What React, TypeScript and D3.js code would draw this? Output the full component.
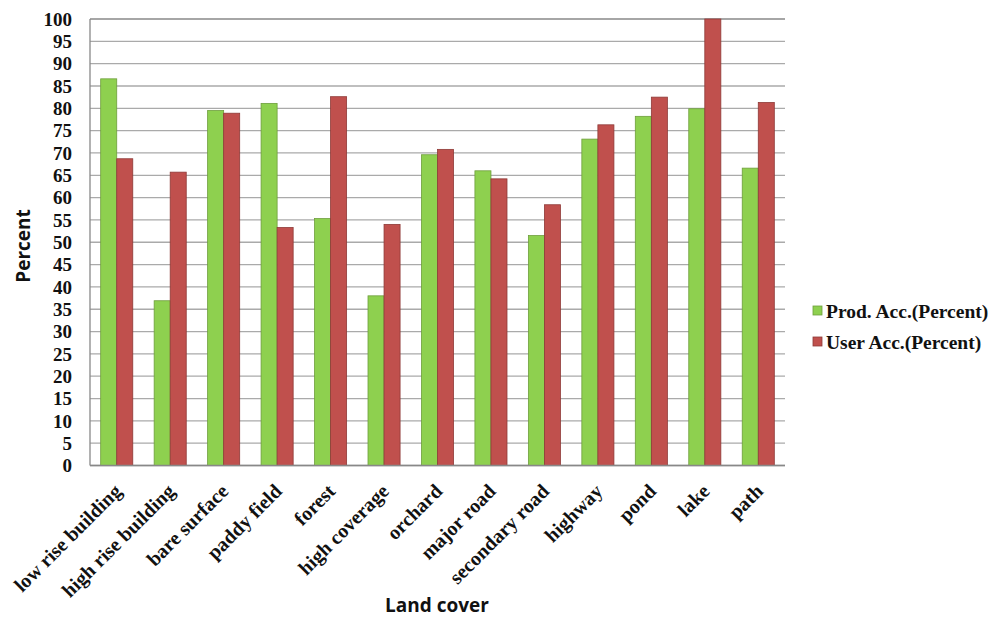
import React from "react";
import * as d3 from "d3";

const categories = ["low rise building", "high rise building", "bare surface", "paddy field", "forest", "high coverage", "orchard", "major road", "secondary road", "highway", "pond", "lake", "path"];
const prodAcc = [86.6, 36.9, 79.5, 81.1, 55.3, 38.0, 69.6, 66.0, 51.5, 73.1, 78.2, 79.9, 66.6];
const userAcc = [68.7, 65.7, 78.9, 53.3, 82.6, 54.0, 70.8, 64.2, 58.4, 76.3, 82.5, 100, 81.3];
const seriesNames = ["Prod. Acc.(Percent)", "User Acc.(Percent)"];
const yTicks = d3.range(0, 101, 5);

const W = 992, H = 617;
const left = 90, right = 785, top = 19, bottom = 465.5;
const colors = ["#8ED04F", "#C0504D"];
const strokes = ["#6E9E3C", "#8E3A37"];
const serif = "'Liberation Serif', 'Times New Roman', serif";
const sans = "'Open Sans', 'Liberation Sans', Arial, sans-serif";

export default function App() {
  const x = d3.scaleBand<string>().domain(categories).range([left, right]).paddingInner(0.4).paddingOuter(0.2);
  const x1 = d3.scaleBand<number>().domain([0, 1]).range([0, x.bandwidth()]);
  const y = d3.scaleLinear().domain([0, 100]).range([bottom, top]);
  const series = [prodAcc, userAcc];
  return (
    <svg width={W} height={H} style={{ position: "absolute", left: 0, top: 0, background: "#fff" }}>
      {yTicks.map((t) => (
        <g key={t}>
          <line x1={left} x2={right} y1={y(t)} y2={y(t)} stroke={t === 100 ? "#888" : "#AAAAAA"} strokeWidth={1.3} />
          <text x={left - 18} y={y(t)} dy="0.35em" textAnchor="end" fontFamily={serif} fontWeight="bold" fontSize={19} fill="#111">{t}</text>
        </g>
      ))}
      {categories.map((c, i) => (
        <g key={c}>
          {series.map((s, k) => (
            <rect key={k} x={(x(c) as number) + (x1(k) as number)} y={y(s[i])} width={x1.bandwidth()} height={y(0) - y(s[i])} fill={colors[k]} stroke={strokes[k]} strokeWidth={0.8} />
          ))}
          <text transform={`translate(${(x(c) as number) + x.bandwidth() / 2 + 6},${bottom + 27}) rotate(-45)`} textAnchor="end" fontFamily={serif} fontWeight="bold" fontSize={20} fill="#111">{c}</text>
        </g>
      ))}
      <line x1={left} x2={left} y1={top} y2={bottom} stroke="#888" strokeWidth={1.3} />
      <line x1={left} x2={right} y1={bottom} y2={bottom} stroke="#888" strokeWidth={1.3} />
      <text transform={`translate(30,246) rotate(-90)`} textAnchor="middle" fontFamily={sans} fontWeight="bold" fontSize={19} fill="#111">Percent</text>
      <text x={437} y={612} textAnchor="middle" fontFamily={sans} fontWeight="bold" fontSize={19} fill="#111">Land cover</text>
      {seriesNames.map((n, k) => (
        <g key={n} transform={`translate(813,${311 + k * 31})`}>
          <rect x={0} y={-5} width={9} height={9} fill={colors[k]} stroke={strokes[k]} strokeWidth={0.8} />
          <text x={13} y={0} dy="0.35em" fontFamily={serif} fontWeight="bold" fontSize={19.5} fill="#111">{n}</text>
        </g>
      ))}
    </svg>
  );
}
